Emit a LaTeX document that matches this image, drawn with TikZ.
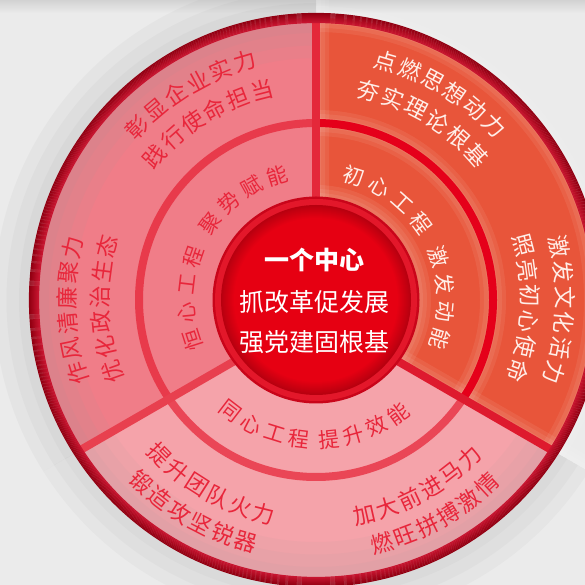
\documentclass[tikz,border=0pt]{standalone}
\usepackage{fontspec}
\newfontfamily\cjk{Noto Sans CJK SC}
\usetikzlibrary{calc}
\definecolor{bg}{HTML}{EBEBEB}
\definecolor{bgshadow}{HTML}{D2D2D2}
\definecolor{pinkA}{HTML}{F07D88}
\definecolor{orangeA}{HTML}{E8553A}
\definecolor{pinkB}{HTML}{F5A3AA}
\definecolor{lineA}{HTML}{E83A4B}
\definecolor{lineR}{HTML}{E5001A}
\definecolor{lineB}{HTML}{EA4656}
\definecolor{divV}{HTML}{E4283A}
\definecolor{divL}{HTML}{E8404F}
\definecolor{divR}{HTML}{DE1A2E}
\definecolor{rimIn}{HTML}{C81530}
\definecolor{rimOut}{HTML}{920012}
\definecolor{diskShadow}{HTML}{C9051A}
\definecolor{diskRing}{HTML}{E3172A}
\definecolor{diskEdge}{HTML}{B8000F}
\definecolor{diskMid}{HTML}{E60012}
\definecolor{txtRed}{HTML}{E8263B}
\definecolor{txtWhite}{HTML}{FFEEE8}
\definecolor{vign}{HTML}{9A9A9A}

\newcommand\cwtext[7]{%
  \foreach \ch/\p [count=\k] in {#7} {%
    \pgfmathsetmacro\ang{#2-(\p-#5)*#4/#3*57.29578}%
    \node[#6, rotate=\ang-90] (#1-\k) at ($(C)+(\ang:#3)$) {\ch};
  }}
\newcommand\ccwtext[7]{%
  \foreach \ch/\p [count=\k] in {#7} {%
    \pgfmathsetmacro\ang{#2+(\p-#5)*#4/#3*57.29578}%
    \node[#6, rotate=\ang+90] (#1-\k) at ($(C)+(\ang:#3)$) {\ch};
  }}

\tikzset{
  outerT/.style={inner sep=0pt, font=\cjk\fontsize{22.5}{22.5}\selectfont},
  innerT/.style={inner sep=0pt, font=\cjk\fontsize{21}{21}\selectfont},
  redT/.style={text=txtRed},
  whiteT/.style={text=txtWhite},
  centerT/.style={inner sep=0pt, text=white, font=\cjk\fontsize{25}{25}\selectfont}
}

\begin{document}
\begin{tikzpicture}[x=1pt,y=1pt]
\useasboundingbox (0,0) rectangle (585,585);
\clip (0,0) rectangle (585,585);
\fill[bg] (0,0) rectangle (585,585);
\shade[top color=bgshadow, bottom color=bg] (0,572) rectangle (585,585);

\coordinate (C) at (316,285);
\coordinate (O) at (316,271);
\coordinate (P210) at (-290.22,-79);
\coordinate (P330) at (922.22,-79);
\coordinate (PTop) at (316,700);

% top-left sector
\begin{scope}
  \clip (O) -- (P210) -- (-290.22,900) -- (316,900) -- cycle;
  \fill[pinkA] (C) circle (282);
  \foreach \w in {80,55,30} \draw[vign, opacity=0.08, line width=\w] (C) circle (282);
  \draw[lineA, line width=8] (C) circle (177);
\end{scope}
% right sector
\begin{scope}
  \clip (O) -- (316,900) -- (922.22,900) -- (P330) -- cycle;
  \fill[orangeA] (C) circle (282);
  \foreach \w in {26,18,10} {
    \draw[white, opacity=0.07, line width=\w] (C) circle (281) (C) circle (177) (C) circle (102);
    \draw[white, opacity=0.07, line width=\w] (O) -- (PTop) (O) -- (P330);
  }
  \draw[lineR, line width=8] (C) circle (177);
\end{scope}
% bottom sector
\begin{scope}
  \clip (O) -- (P330) -- (922.22,-500) -- (-290.22,-500) -- (P210) -- cycle;
  \fill[pinkB] (C) circle (282);
  \foreach \w in {80,55,30} \draw[vign, opacity=0.07, line width=\w] (C) circle (282);
  \draw[lineB, line width=8] (C) circle (177);
\end{scope}
% dividers
\begin{scope}
  \clip (C) circle (280);
  \draw[divV, line width=8] (O) -- (PTop);
  \draw[divL, line width=8] (O) -- (P210);
  \draw[divR, line width=8] (O) -- (P330);
\end{scope}
% rim
\foreach \i in {0,1,...,9} {
  \pgfmathsetmacro\t{\i*11.1}
  \draw[rimOut!\t!rimIn, line width=1.2] (C) circle (277.5+\i);
}
% centre disk
\fill[diskShadow] (C) circle (103.5);
\fill[diskRing] (C) circle (101);
\foreach \r in {95,94,...,82} {
  \pgfmathsetmacro\t{(95-\r)/13*100}
  \fill[diskMid!\t!diskEdge] (C) circle (\r);
}
\node[centerT, font=\cjk\bfseries\fontsize{25}{25}\selectfont] (c1) at (314,325) {一个中心};
\node[centerT] (c2) at (314,283) {抓改革促发展};
\node[centerT] (c3) at (314,243) {强党建固根基};

% outer texts
\cwtext{tla}{121.3}{249}{25.5}{2.5}{outerT,redT}{彰/0,显/1,企/2,业/3,实/4,力/5}
\cwtext{tlb}{121.3}{216}{25.5}{2.5}{outerT,redT}{践/0,行/1,使/2,命/3,担/4,当/5}
\cwtext{tra}{59}{249}{25.5}{2.5}{outerT,whiteT}{点/0,燃/1,思/2,想/3,动/4,力/5}
\cwtext{trb}{59}{216}{25.5}{2.5}{outerT,whiteT}{夯/0,实/1,理/2,论/3,根/4,基/5}
\cwtext{la}{182.5}{249}{25.5}{2.5}{outerT,redT}{作/0,风/1,清/2,廉/3,聚/4,力/5}
\cwtext{lb}{182.5}{216}{25.5}{2.5}{outerT,redT}{优/0,化/1,政/2,治/3,生/4,态/5}
\cwtext{ra}{-2.3}{249}{25.5}{2.5}{outerT,whiteT}{激/0,发/1,文/2,化/3,活/4,力/5}
\cwtext{rb}{-2.3}{214}{25.5}{2.5}{outerT,whiteT}{照/0,亮/1,初/2,心/3,使/4,命/5}
\ccwtext{bla}{240.5}{220}{24.2}{2.5}{outerT,redT}{提/0,升/1,团/2,队/3,火/4,力/5}
\ccwtext{blb}{240}{252}{24.2}{2.5}{outerT,redT}{锻/0,造/1,攻/2,坚/3,锐/4,器/5}
\ccwtext{bra}{298.5}{220}{24.2}{2.5}{outerT,redT}{加/0,大/1,前/2,进/3,马/4,力/5}
\ccwtext{brb}{299}{252}{24.2}{2.5}{outerT,redT}{燃/0,旺/1,拼/2,搏/3,激/4,情/5}
% inner texts
\cwtext{itl}{152.5}{130}{27.9}{3.685}{innerT,redT}{恒/0,心/1,工/2,程/3,聚/4.37,势/5.37,赋/6.37,能/7.37}
\cwtext{itr}{27.7}{130}{27.9}{3.685}{innerT,whiteT}{初/0,心/1,工/2,程/3,激/4.37,发/5.37,动/6.37,能/7.37}
\ccwtext{ib}{269.2}{140}{24.7}{3.63}{innerT,redT}{同/0,心/1,工/2,程/3,提/4.26,升/5.26,效/6.26,能/7.26}
\end{tikzpicture}
\end{document}
